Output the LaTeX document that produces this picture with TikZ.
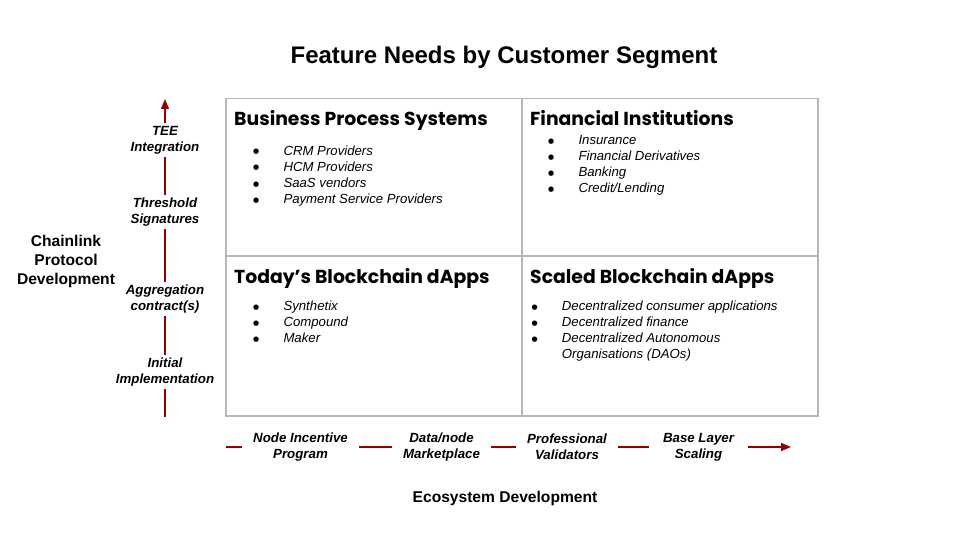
\documentclass[tikz,border=0pt]{standalone}
\usepackage{fontspec}
\setmainfont{Liberation Sans}
\newfontfamily\headfont{Poppins}
\newfontfamily\symfont{DejaVu Sans}
\usetikzlibrary{arrows.meta}

\definecolor{cellgray}{HTML}{B7B7B7}
\definecolor{axisred}{HTML}{980000}

\newcommand{\bul}{\makebox[30.4pt][l]{\symfont\fontsize{7}{9}\selectfont\raisebox{1.3pt}{●}}}

\tikzset{
  cell/.style={draw=cellgray, line width=1.5pt, minimum width=296pt, anchor=north west, inner sep=0},
  heading/.style={font=\headfont\bfseries\fontsize{18.8}{22}\selectfont, anchor=base west, inner sep=0},
  item/.style={font=\itshape\fontsize{13.2}{16}\selectfont, anchor=base west, inner sep=0},
  stage/.style={font=\bfseries\itshape\fontsize{13.3}{16}\selectfont, align=center, inner ysep=3pt, inner xsep=11pt},
  axisline/.style={draw=axisred, line width=1.5pt},
  axistitle/.style={font=\bfseries\fontsize{15.6}{19}\selectfont, align=center}
}

\begin{document}
\begin{tikzpicture}[x=1pt, y=-1pt]
\useasboundingbox (0,0) rectangle (960,540);

\node[font=\bfseries\fontsize{24}{28}\selectfont] (title) at (504,57) {Feature Needs by Customer Segment};

% the four segments
\node[cell, minimum height=157pt] (bps) at (225,98) {};
\node[cell, minimum height=157pt] (fin) at (521,98) {};
\node[cell, minimum height=160pt] (today) at (225,255) {};
\node[cell, minimum height=160pt] (scaled) at (521,255) {};

\node[heading] (bps-head) at (234,126) {Business Process Systems};
\node[item] (bps-1) at (252.9,155.3) {\bul CRM Providers};
\node[item] (bps-2) at (252.9,171.3) {\bul HCM Providers};
\node[item] (bps-3) at (252.9,187.3) {\bul SaaS vendors};
\node[item] (bps-4) at (252.9,203.3) {\bul Payment Service Providers};

\node[heading] (fin-head) at (530,126) {Financial Institutions};
\node[item] (fin-1) at (547.9,144.7) {\bul Insurance};
\node[item] (fin-2) at (547.9,160.7) {\bul Financial Derivatives};
\node[item] (fin-3) at (547.9,176.7) {\bul Banking};
\node[item] (fin-4) at (547.9,192.7) {\bul Credit/Lending};

\node[heading] (today-head) at (234,283.3) {Today’s Blockchain dApps};
\node[item] (today-1) at (252.9,310.7) {\bul Synthetix};
\node[item] (today-2) at (252.9,326.7) {\bul Compound};
\node[item] (today-3) at (252.9,342.7) {\bul Maker};

\node[heading] (scaled-head) at (530,283.3) {Scaled Blockchain dApps};
\node[item] (scaled-1) at (531.3,310.7) {\bul Decentralized consumer applications};
\node[item] (scaled-2) at (531.3,326.7) {\bul Decentralized finance};
\node[item] (scaled-3) at (531.3,342.7) {\bul Decentralized Autonomous};
\node[item] (scaled-3b) at (561.7,358.7) {Organisations (DAOs)};

% protocol axis
\node[axistitle] (protocol) at (66,261) {Chainlink\\Protocol\\Development};
\coordinate (pd-start) at (165,417);
\coordinate (pd-end) at (165,99);
\node[stage] (init) at (165,372) {Initial\\Implementation};
\node[stage] (aggr) at (165,299) {Aggregation\\contract(s)};
\node[stage] (thresh) at (165,212) {Threshold\\Signatures};
\node[stage] (tee) at (165,140) {TEE\\Integration};

\draw[axisline] (pd-start) -- (init.south);
\draw[axisline] (init.north) -- (aggr.south);
\draw[axisline] (aggr.north) -- (thresh.south);
\draw[axisline] (thresh.north) -- (tee.south);
\draw[axisline, -{Triangle[length=10pt,width=8pt]}] (tee.north) -- (pd-end);

% ecosystem axis
\node[axistitle] (ecosystem) at (505,498) {Ecosystem Development};
\coordinate (ed-start) at (226,447);
\coordinate (ed-end) at (791,447);
\node[stage] (incentive) at (300.5,447) {Node Incentive\\Program};
\node[stage] (market) at (441.5,447) {Data/node\\Marketplace};
\node[stage] (valid) at (567,447) {Professional\\Validators};
\node[stage, inner xsep=14pt] (scaling) at (698.5,447) {Base Layer\\Scaling};

\draw[axisline] (ed-start) -- (incentive.west);
\draw[axisline] (incentive.east) -- (market.west);
\draw[axisline] (market.east) -- (valid.west);
\draw[axisline] (valid.east) -- (scaling.west);
\draw[axisline, -{Triangle[length=10pt,width=8pt]}] (scaling.east) -- (ed-end);

\end{tikzpicture}
\end{document}
